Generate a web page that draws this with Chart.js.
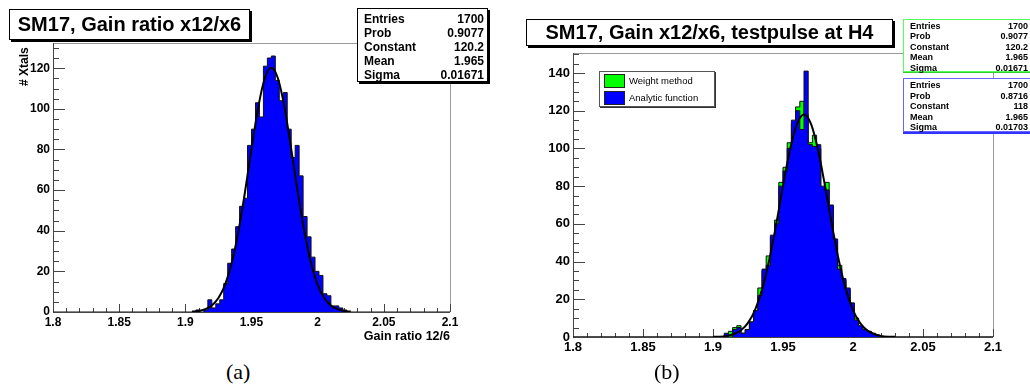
<!DOCTYPE html>
<html>
<head>
<meta charset="utf-8">
<script src="https://cdn.jsdelivr.net/npm/chart.js@4.4.1/dist/chart.umd.min.js"></script>
<style>
  body { margin: 0; width: 1030px; height: 390px; overflow: hidden; position: relative; background: #fff;
         font-family: "Liberation Sans", Arial, sans-serif; }
  canvas { position: absolute; }
  .box { position: absolute; background: #fff; box-sizing: border-box; z-index: 2; }
  .title { border: 1px solid #000; box-shadow: 2px 2px 0 #000; font-weight: bold; font-size: 20px;
           text-align: center; white-space: nowrap; }
  .stats { font-weight: bold; }
  .stats div { display: flex; justify-content: space-between; }
  .lbl { position: absolute; font-weight: bold; white-space: nowrap; z-index: 2; }
  .cap { position: absolute; font-family: "Liberation Serif", "DejaVu Serif", serif; font-size: 22px; }
  .leg { position: absolute; font-size: 9.5px; display: flex; align-items: center; }
  .leg span { display: inline-block; width: 19px; height: 12px; border: 1px solid #222; margin-right: 4px; }
</style>
</head>
<body>
<canvas id="left" width="505" height="350" style="left:0;top:0;width:505px;height:350px"></canvas>
<canvas id="right" width="520" height="365" style="left:510px;top:0;width:520px;height:365px"></canvas>

<div class="box title" style="left:9px;top:9px;width:241px;height:31px;line-height:29px;">SM17, Gain ratio x12/x6</div>
<div class="box stats" id="statsA" style="left:357px;top:8px;width:131px;height:74px;border:1px solid #000;box-shadow:2px 2px 0 #000;font-size:12px;line-height:13.9px;padding:4px 3px 0 6px;"></div>
<div class="lbl" style="left:17px;top:86px;font-size:12px;transform:rotate(-90deg);transform-origin:left top;">#&nbsp;Xtals</div>
<div class="lbl" style="right:580px;top:329px;font-size:12.5px;">Gain ratio 12/6</div>

<div class="box title" style="left:526px;top:19px;width:367px;height:27px;line-height:25px;">SM17, Gain x12/x6, testpulse at H4</div>
<div class="box stats" id="statsG" style="left:903px;top:19px;width:130px;height:53px;border:1px solid #5f5;box-shadow:0 1px 0 #3c3;font-size:9px;line-height:10.4px;padding:1px 4px 0 6px;"></div>
<div class="box stats" id="statsB" style="left:903px;top:78px;width:130px;height:54px;border:1px solid #66f;box-shadow:0 2px 0 #33f;font-size:9px;line-height:10.6px;padding:1px 4px 0 6px;"></div>
<div class="box" style="left:599px;top:71px;width:116px;height:36px;border:1px solid #555;box-shadow:1px 1px 0 #333;">
  <div class="leg" style="left:4px;top:2px;height:13px;"><span style="background:#00ff00"></span>Weight method</div>
  <div class="leg" style="left:4px;top:19px;height:13px;"><span style="background:#0000ff"></span>Analytic function</div>
</div>

<div class="cap" style="left:226px;top:359px;">(a)</div>
<div class="cap" style="left:654px;top:359px;">(b)</div>

<script>
// histogram binning: 100 bins from 1.8 to 2.1
const xMin = 1.8, xMax = 2.1, binWidth = 0.003;
const xTicks = [1.8, 1.85, 1.9, 1.95, 2.0, 2.05, 2.1];
const leftYTicks = [0, 20, 40, 60, 80, 100, 120];
const rightYTicks = [0, 20, 40, 60, 80, 100, 120, 140];

// (a) counts per bin, first bin starts at 1.908
const leftStart = 1.908;
const leftCounts = [1, 0, 1, 6, 2, 4, 6, 14, 24, 31, 42, 52, 56, 82, 90, 103, 96, 121, 125, 126,
  114, 104, 108, 90, 76, 82, 67, 47, 37, 27, 20, 18, 9, 8, 3, 3, 2, 1];

// (b) counts per bin, first bin starts at 1.908
const rightStart = 1.908;
const analyticCounts = [2, 0, 4, 5, 2, 4, 8, 14, 22, 36, 38, 54, 60, 80, 88, 100, 115, 120, 110, 141,
  102, 101, 102, 80, 78, 70, 52, 36, 31, 26, 18, 9, 6, 4, 3, 2, 1];
const weightCounts = [1, 3, 5, 6, 2, 4, 8, 14, 26, 35, 43, 53, 62, 82, 90, 103, 113, 122, 125, 118,
  103, 107, 100, 79, 82, 69, 51, 38, 30, 25, 18, 10, 5, 4, 3, 1, 1];

// gaussian fit curves
const leftFitX = [1.905, 1.91, 1.915, 1.92, 1.925, 1.93, 1.935, 1.94, 1.945, 1.95, 1.955, 1.96, 1.965,
  1.97, 1.975, 1.98, 1.985, 1.99, 1.995, 2.0, 2.005, 2.01, 2.015, 2.02, 2.025];
const leftFitY = [0.2, 0.5, 1.4, 3.2, 6.9, 13.4, 24, 39.3, 58.7, 80.3, 100.5, 114.9, 120.2,
  114.9, 100.5, 80.3, 58.7, 39.3, 24, 13.4, 6.9, 3.2, 1.4, 0.5, 0.2];
const rightFitX = [1.9, 1.905, 1.91, 1.915, 1.92, 1.925, 1.93, 1.935, 1.94, 1.945, 1.95, 1.955, 1.96, 1.965,
  1.97, 1.975, 1.98, 1.985, 1.99, 1.995, 2.0, 2.005, 2.01, 2.015, 2.02, 2.025, 2.03];
const rightFitY = [0.1, 0.2, 0.6, 1.6, 3.6, 7.5, 14.3, 25, 40.2, 59.2, 80.1, 99.3, 113, 118,
  113, 99.3, 80.1, 59.2, 40.2, 25, 14.3, 7.5, 3.6, 1.6, 0.6, 0.2, 0.1];

const statNames = ['Entries', 'Prob', 'Constant', 'Mean', 'Sigma'];
const statsA = ['1700', '0.9077', '120.2', '1.965', '0.01671'];
const statsWeight = ['1700', '0.9077', '120.2', '1.965', '0.01671'];
const statsAnalytic = ['1700', '0.8716', '118', '1.965', '0.01703'];

function fillStats(id, vals) {
  document.getElementById(id).innerHTML = statNames.map((n, i) =>
    '<div><span>' + n + '</span><span>' + vals[i] + '</span></div>').join('');
}
fillStats('statsA', statsA);
fillStats('statsG', statsWeight);
fillStats('statsB', statsAnalytic);

function histPoints(start, counts) {
  const pts = [{ x: xMin, y: 0 }];
  counts.forEach((c, i) => pts.push({ x: start + i * binWidth, y: c }));
  pts.push({ x: start + counts.length * binWidth, y: 0 });
  pts.push({ x: xMax, y: 0 });
  return pts;
}
const toXY = (xs, ys) => xs.map((x, i) => ({ x: x, y: ys[i] }));

Chart.defaults.font.family = '"Liberation Sans", Arial, sans-serif';
Chart.defaults.color = '#000';

// ROOT style frame with inward ticks
const rootFrame = {
  id: 'rootFrame',
  beforeDatasetsDraw(chart, args, o) {
    const { ctx, chartArea: a, scales: { x, y } } = chart;
    ctx.save();
    ctx.lineWidth = 1;
    ctx.strokeStyle = '#999';
    ctx.beginPath();
    ctx.moveTo(a.left, a.top + 0.5); ctx.lineTo(a.right + 0.5, a.top + 0.5); ctx.lineTo(a.right + 0.5, a.bottom);
    ctx.stroke();
    ctx.strokeStyle = '#444';
    ctx.beginPath();
    ctx.moveTo(a.left + 0.5, a.top); ctx.lineTo(a.left + 0.5, a.bottom + 0.5); ctx.lineTo(a.right, a.bottom + 0.5);
    for (let k = 0; k <= 30; k++) {
      const px = Math.round(x.getPixelForValue(xMin + k * 0.01)) + 0.5;
      const len = k % 5 === 0 ? o.xMajor : o.xMinor;
      ctx.moveTo(px, a.bottom); ctx.lineTo(px, a.bottom - len);
    }
    for (let v = 0; v <= y.max; v += 5) {
      const py = Math.round(y.getPixelForValue(v)) + 0.5;
      const len = v % 20 === 0 ? o.yMajor : o.yMinor;
      ctx.moveTo(a.left, py); ctx.lineTo(a.left + len, py);
    }
    ctx.stroke();
    ctx.restore();
  }
};

function histDataset(pts, color, order) {
  return {
    data: pts, stepped: true, fill: 'origin', backgroundColor: color, borderColor: '#111',
    borderWidth: 1, pointRadius: 0, order: order
  };
}
function fitDataset(pts) {
  return {
    data: pts, borderColor: '#000', borderWidth: 2, pointRadius: 0, fill: false,
    cubicInterpolationMode: 'monotone', order: 0
  };
}

function makeChart(id, datasets, yMax, yTicks, yWidth, padding, fontSize) {
  return new Chart(document.getElementById(id), {
    type: 'line',
    data: { datasets: datasets },
    options: {
      animation: false,
      responsive: false,
      layout: { padding: padding },
      plugins: { legend: { display: false }, tooltip: { enabled: false },
        rootFrame: { xMajor: 8, xMinor: 4, yMajor: 12, yMinor: 6 } },
      scales: {
        x: {
          type: 'linear', min: xMin, max: xMax,
          grid: { display: false, drawTicks: false }, border: { display: false },
          afterBuildTicks: s => { s.ticks = xTicks.map(v => ({ value: v })); },
          afterFit: s => { s.height = 20; },
          ticks: { autoSkip: false, maxRotation: 0, padding: 3, font: { size: fontSize, weight: 'bold' },
            callback: v => String(Number(v.toFixed(2))) }
        },
        y: {
          min: 0, max: yMax,
          grid: { display: false, drawTicks: false }, border: { display: false },
          afterBuildTicks: s => { s.ticks = yTicks.map(v => ({ value: v })); },
          afterFit: s => { s.width = yWidth; },
          ticks: { padding: 3, font: { size: fontSize, weight: 'bold' }, callback: v => String(v) }
        }
      }
    },
    plugins: [rootFrame]
  });
}

makeChart('left', [
  fitDataset(toXY(leftFitX, leftFitY)),
  histDataset(histPoints(leftStart, leftCounts), '#0000ff', 1)
], 132.4, leftYTicks, 53, { left: 0, top: 43, right: 55, bottom: 18 }, 12);

makeChart('right', [
  fitDataset(toXY(rightFitX, rightFitY)),
  histDataset(histPoints(rightStart, analyticCounts), '#0000ff', 1),
  histDataset(histPoints(rightStart, weightCounts), '#00ff00', 2)
], 150.6, rightYTicks, 63, { left: 0, top: 53, right: 37, bottom: 8 }, 13);
</script>
</body>
</html>
